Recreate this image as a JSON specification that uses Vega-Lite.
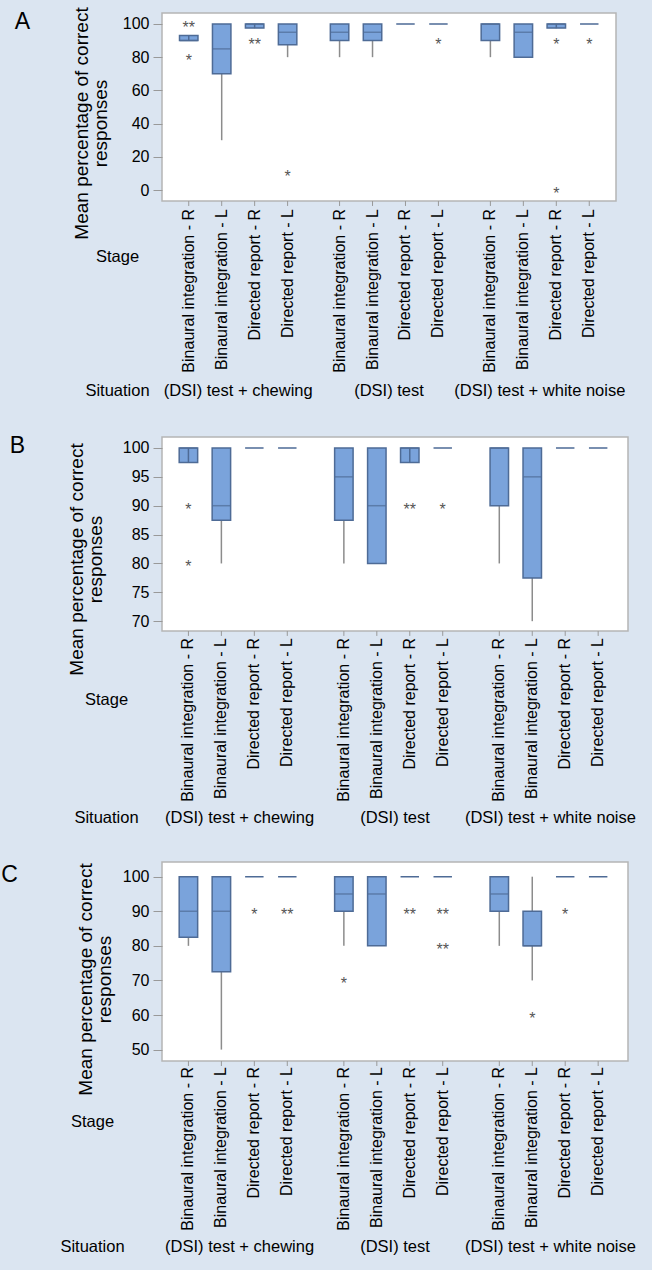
{
  "$schema": "https://vega.github.io/schema/vega-lite/v6.json",
  "background": "#dbe5f1",
  "padding": {"left": 0, "top": 6, "right": 15, "bottom": 20},
  "spacing": 34,
  "config": {
    "font": "Liberation Sans",
    "view": {"fill": "white", "stroke": "#b5b5b5", "strokeWidth": 1.5},
    "axis": {"labelColor": "#000", "titleColor": "#000", "labelFont": "Liberation Sans", "titleFont": "Liberation Sans", "titleFontWeight": "normal", "grid": false, "labelOverlap": false},
    "title": {"font": "Liberation Sans", "fontWeight": "normal", "color": "#000"}
  },
  "datasets": {
    "boxes": [
      {"p": "A", "sit": "(DSI) test + chewing", "stage": "Binaural integration - R", "lo": 90, "q1": 90, "med": 90, "q3": 93, "hi": 93},
      {"p": "A", "sit": "(DSI) test + chewing", "stage": "Binaural integration - L", "lo": 30, "q1": 70, "med": 85, "q3": 100, "hi": 100},
      {"p": "A", "sit": "(DSI) test + chewing", "stage": "Directed report - R", "lo": 97.5, "q1": 97.5, "med": 100, "q3": 100, "hi": 100},
      {"p": "A", "sit": "(DSI) test + chewing", "stage": "Directed report - L", "lo": 80, "q1": 87.5, "med": 95, "q3": 100, "hi": 100},
      {"p": "A", "sit": "(DSI) test", "stage": "Binaural integration - R", "lo": 80, "q1": 90, "med": 95, "q3": 100, "hi": 100},
      {"p": "A", "sit": "(DSI) test", "stage": "Binaural integration - L", "lo": 80, "q1": 90, "med": 95, "q3": 100, "hi": 100},
      {"p": "A", "sit": "(DSI) test", "stage": "Directed report - R", "lo": 100, "q1": 100, "med": 100, "q3": 100, "hi": 100},
      {"p": "A", "sit": "(DSI) test", "stage": "Directed report - L", "lo": 100, "q1": 100, "med": 100, "q3": 100, "hi": 100},
      {"p": "A", "sit": "(DSI) test + white noise", "stage": "Binaural integration - R", "lo": 80, "q1": 90, "med": 100, "q3": 100, "hi": 100},
      {"p": "A", "sit": "(DSI) test + white noise", "stage": "Binaural integration - L", "lo": 80, "q1": 80, "med": 95, "q3": 100, "hi": 100},
      {"p": "A", "sit": "(DSI) test + white noise", "stage": "Directed report - R", "lo": 97.5, "q1": 97.5, "med": 100, "q3": 100, "hi": 100},
      {"p": "A", "sit": "(DSI) test + white noise", "stage": "Directed report - L", "lo": 100, "q1": 100, "med": 100, "q3": 100, "hi": 100},
      {"p": "B", "sit": "(DSI) test + chewing", "stage": "Binaural integration - R", "lo": 97.5, "q1": 97.5, "med": 100, "q3": 100, "hi": 100},
      {"p": "B", "sit": "(DSI) test + chewing", "stage": "Binaural integration - L", "lo": 80, "q1": 87.5, "med": 90, "q3": 100, "hi": 100},
      {"p": "B", "sit": "(DSI) test + chewing", "stage": "Directed report - R", "lo": 100, "q1": 100, "med": 100, "q3": 100, "hi": 100},
      {"p": "B", "sit": "(DSI) test + chewing", "stage": "Directed report - L", "lo": 100, "q1": 100, "med": 100, "q3": 100, "hi": 100},
      {"p": "B", "sit": "(DSI) test", "stage": "Binaural integration - R", "lo": 80, "q1": 87.5, "med": 95, "q3": 100, "hi": 100},
      {"p": "B", "sit": "(DSI) test", "stage": "Binaural integration - L", "lo": 80, "q1": 80, "med": 90, "q3": 100, "hi": 100},
      {"p": "B", "sit": "(DSI) test", "stage": "Directed report - R", "lo": 97.5, "q1": 97.5, "med": 100, "q3": 100, "hi": 100},
      {"p": "B", "sit": "(DSI) test", "stage": "Directed report - L", "lo": 100, "q1": 100, "med": 100, "q3": 100, "hi": 100},
      {"p": "B", "sit": "(DSI) test + white noise", "stage": "Binaural integration - R", "lo": 80, "q1": 90, "med": 100, "q3": 100, "hi": 100},
      {"p": "B", "sit": "(DSI) test + white noise", "stage": "Binaural integration - L", "lo": 70, "q1": 77.5, "med": 95, "q3": 100, "hi": 100},
      {"p": "B", "sit": "(DSI) test + white noise", "stage": "Directed report - R", "lo": 100, "q1": 100, "med": 100, "q3": 100, "hi": 100},
      {"p": "B", "sit": "(DSI) test + white noise", "stage": "Directed report - L", "lo": 100, "q1": 100, "med": 100, "q3": 100, "hi": 100},
      {"p": "C", "sit": "(DSI) test + chewing", "stage": "Binaural integration - R", "lo": 80, "q1": 82.5, "med": 90, "q3": 100, "hi": 100},
      {"p": "C", "sit": "(DSI) test + chewing", "stage": "Binaural integration - L", "lo": 50, "q1": 72.5, "med": 90, "q3": 100, "hi": 100},
      {"p": "C", "sit": "(DSI) test + chewing", "stage": "Directed report - R", "lo": 100, "q1": 100, "med": 100, "q3": 100, "hi": 100},
      {"p": "C", "sit": "(DSI) test + chewing", "stage": "Directed report - L", "lo": 100, "q1": 100, "med": 100, "q3": 100, "hi": 100},
      {"p": "C", "sit": "(DSI) test", "stage": "Binaural integration - R", "lo": 80, "q1": 90, "med": 95, "q3": 100, "hi": 100},
      {"p": "C", "sit": "(DSI) test", "stage": "Binaural integration - L", "lo": 80, "q1": 80, "med": 95, "q3": 100, "hi": 100},
      {"p": "C", "sit": "(DSI) test", "stage": "Directed report - R", "lo": 100, "q1": 100, "med": 100, "q3": 100, "hi": 100},
      {"p": "C", "sit": "(DSI) test", "stage": "Directed report - L", "lo": 100, "q1": 100, "med": 100, "q3": 100, "hi": 100},
      {"p": "C", "sit": "(DSI) test + white noise", "stage": "Binaural integration - R", "lo": 80, "q1": 90, "med": 95, "q3": 100, "hi": 100},
      {"p": "C", "sit": "(DSI) test + white noise", "stage": "Binaural integration - L", "lo": 70, "q1": 80, "med": 80, "q3": 90, "hi": 100},
      {"p": "C", "sit": "(DSI) test + white noise", "stage": "Directed report - R", "lo": 100, "q1": 100, "med": 100, "q3": 100, "hi": 100},
      {"p": "C", "sit": "(DSI) test + white noise", "stage": "Directed report - L", "lo": 100, "q1": 100, "med": 100, "q3": 100, "hi": 100}
    ],
    "outliers": [
      {"p": "A", "sit": "(DSI) test + chewing", "stage": "Binaural integration - R", "v": 100, "sym": "**"},
      {"p": "A", "sit": "(DSI) test + chewing", "stage": "Binaural integration - R", "v": 80, "sym": "*"},
      {"p": "A", "sit": "(DSI) test + chewing", "stage": "Directed report - R", "v": 90, "sym": "**"},
      {"p": "A", "sit": "(DSI) test + chewing", "stage": "Directed report - L", "v": 10, "sym": "*"},
      {"p": "A", "sit": "(DSI) test", "stage": "Directed report - L", "v": 90, "sym": "*"},
      {"p": "A", "sit": "(DSI) test + white noise", "stage": "Directed report - R", "v": 90, "sym": "*"},
      {"p": "A", "sit": "(DSI) test + white noise", "stage": "Directed report - R", "v": 0, "sym": "*"},
      {"p": "A", "sit": "(DSI) test + white noise", "stage": "Directed report - L", "v": 90, "sym": "*"},
      {"p": "B", "sit": "(DSI) test + chewing", "stage": "Binaural integration - R", "v": 90, "sym": "*"},
      {"p": "B", "sit": "(DSI) test + chewing", "stage": "Binaural integration - R", "v": 80, "sym": "*"},
      {"p": "B", "sit": "(DSI) test", "stage": "Directed report - R", "v": 90, "sym": "**"},
      {"p": "B", "sit": "(DSI) test", "stage": "Directed report - L", "v": 90, "sym": "*"},
      {"p": "C", "sit": "(DSI) test + chewing", "stage": "Directed report - R", "v": 90, "sym": "*"},
      {"p": "C", "sit": "(DSI) test + chewing", "stage": "Directed report - L", "v": 90, "sym": "**"},
      {"p": "C", "sit": "(DSI) test", "stage": "Binaural integration - R", "v": 70, "sym": "*"},
      {"p": "C", "sit": "(DSI) test", "stage": "Directed report - R", "v": 90, "sym": "**"},
      {"p": "C", "sit": "(DSI) test", "stage": "Directed report - L", "v": 90, "sym": "**"},
      {"p": "C", "sit": "(DSI) test", "stage": "Directed report - L", "v": 80, "sym": "**"},
      {"p": "C", "sit": "(DSI) test + white noise", "stage": "Binaural integration - L", "v": 60, "sym": "*"},
      {"p": "C", "sit": "(DSI) test + white noise", "stage": "Directed report - R", "v": 90, "sym": "*"}
    ]
  },
  "vconcat": [
    {
      "width": 454, "height": 188,
      "title": {"text": "A", "orient": "left", "anchor": "end", "angle": 0, "align": "left", "baseline": "top", "fontSize": 23, "offset": 42, "dy": 4},
      "resolve": {"axis": {"y": "independent"}},
      "encoding": {
        "x": {"field": "sit", "type": "nominal", "sort": ["(DSI) test + chewing", "(DSI) test", "(DSI) test + white noise"], "scale": {"paddingInner": 0.126, "paddingOuter": 0.068},
          "axis": {"title": ["Stage", "Situation"], "titleLineHeight": 134, "titleX": -45, "titleY": 47, "titleAlign": "center", "titleBaseline": "top", "titleAngle": 0, "titleFontSize": 16.5, "labelAngle": 0, "labelFontSize": 16.5, "labelBaseline": "top", "labelPadding": 181, "ticks": false, "tickSize": 0, "domain": false}},
        "xOffset": {"field": "stage", "type": "nominal", "sort": ["Binaural integration - R", "Binaural integration - L", "Directed report - R", "Directed report - L"], "scale": {"paddingInner": 0.44, "paddingOuter": 0.22}}
      },
      "layer": [
        {"data": {"name": "boxes"}, "transform": [{"filter": "datum.p == 'A'"}], "mark": {"type": "rule", "color": "#8c8c8c", "strokeWidth": 1.5},
          "encoding": {"y": {"field": "lo", "type": "quantitative", "scale": {"domain": [-6.6, 106.6], "nice": false, "zero": false},
            "axis": {"values": [0, 20, 40, 60, 80, 100], "labelOverlap": false, "title": ["Mean percentage of correct", "responses"], "titleFontSize": 19, "titleLineHeight": 19, "titleAngle": 270, "titleAlign": "center", "titleBaseline": "top", "titleX": -90, "titleY": 110, "labelFontSize": 16, "labelPadding": 4, "tickSize": 9, "tickColor": "#999", "domain": false}},
            "y2": {"field": "hi"}}},
        {"data": {"name": "boxes"}, "transform": [{"filter": "datum.p == 'A'"}], "mark": {"type": "bar", "fill": "#7aa3db", "stroke": "#4e6b96", "strokeWidth": 1.5},
          "encoding": {"y": {"field": "q1", "type": "quantitative", "axis": null, "scale": {"domain": [-6.6, 106.6], "nice": false, "zero": false}}, "y2": {"field": "q3"}}},
        {"data": {"name": "boxes"}, "transform": [{"filter": "datum.p == 'A' && datum.q3 > datum.q1"}], "mark": {"type": "tick", "color": "#4e6b96", "thickness": 1.5, "size": 18},
          "encoding": {"y": {"field": "med", "type": "quantitative", "axis": null, "scale": {"domain": [-6.6, 106.6], "nice": false, "zero": false}}}},
        {"data": {"name": "boxes"}, "transform": [{"filter": "datum.p == 'A' && datum.q3 > datum.q1 && datum.q3 - datum.q1 <= 3"}], "mark": {"type": "rule", "color": "#4e6b96", "strokeWidth": 1.5},
          "encoding": {"y": {"field": "q1", "type": "quantitative", "axis": null, "scale": {"domain": [-6.6, 106.6], "nice": false, "zero": false}}, "y2": {"field": "q3"}}},
        {"data": {"name": "boxes"}, "transform": [{"filter": "datum.p == 'A'"}], "mark": {"type": "rule", "color": "#999999", "strokeWidth": 1},
          "encoding": {"y": {"datum": -6.6, "type": "quantitative", "axis": null, "scale": {"domain": [-6.6, 106.6], "nice": false, "zero": false}}, "y2": {"datum": -9.6}}},
        {"data": {"name": "boxes"}, "transform": [{"filter": "datum.p == 'A'"}], "mark": {"type": "text", "angle": 270, "align": "right", "baseline": "middle", "dx": -8, "fontSize": 16, "color": "#000"},
          "encoding": {"text": {"field": "stage"}, "y": {"datum": -6.6, "type": "quantitative", "axis": null, "scale": {"domain": [-6.6, 106.6], "nice": false, "zero": false}}}},
        {"data": {"name": "outliers"}, "transform": [{"filter": "datum.p == 'A'"}], "mark": {"type": "text", "fontSize": 16, "color": "#555555", "baseline": "middle", "dy": 4},
          "encoding": {"text": {"field": "sym"}, "y": {"field": "v", "type": "quantitative", "axis": null, "scale": {"domain": [-6.6, 106.6], "nice": false, "zero": false}}}}
      ]
    },
    {
      "width": 466, "height": 194,
      "title": {"text": "B", "orient": "left", "anchor": "end", "angle": 0, "align": "left", "baseline": "top", "fontSize": 23, "offset": 42, "dy": -2},
      "resolve": {"axis": {"y": "independent"}},
      "encoding": {
        "x": {"field": "sit", "type": "nominal", "sort": ["(DSI) test + chewing", "(DSI) test", "(DSI) test + white noise"], "scale": {"paddingInner": 0.13, "paddingOuter": 0.064},
          "axis": {"title": ["Stage", "Situation"], "titleLineHeight": 118, "titleX": -56, "titleY": 60, "titleAlign": "center", "titleBaseline": "top", "titleAngle": 0, "titleFontSize": 16.5, "labelAngle": 0, "labelFontSize": 16.5, "labelBaseline": "top", "labelPadding": 178, "ticks": false, "tickSize": 0, "domain": false}},
        "xOffset": {"field": "stage", "type": "nominal", "sort": ["Binaural integration - R", "Binaural integration - L", "Directed report - R", "Directed report - L"], "scale": {"paddingInner": 0.44, "paddingOuter": 0.22}}
      },
      "layer": [
        {"data": {"name": "boxes"}, "transform": [{"filter": "datum.p == 'B'"}], "mark": {"type": "rule", "color": "#8c8c8c", "strokeWidth": 1.5},
          "encoding": {"y": {"field": "lo", "type": "quantitative", "scale": {"domain": [68.3, 101.9], "nice": false, "zero": false},
            "axis": {"values": [70, 75, 80, 85, 90, 95, 100], "labelOverlap": false, "title": ["Mean percentage of correct", "responses"], "titleFontSize": 19, "titleLineHeight": 19, "titleAngle": 270, "titleAlign": "center", "titleBaseline": "top", "titleX": -95, "titleY": 122, "labelFontSize": 16, "labelPadding": 4, "tickSize": 9, "tickColor": "#999", "domain": false}},
            "y2": {"field": "hi"}}},
        {"data": {"name": "boxes"}, "transform": [{"filter": "datum.p == 'B'"}], "mark": {"type": "bar", "fill": "#7aa3db", "stroke": "#4e6b96", "strokeWidth": 1.5},
          "encoding": {"y": {"field": "q1", "type": "quantitative", "axis": null, "scale": {"domain": [68.3, 101.9], "nice": false, "zero": false}}, "y2": {"field": "q3"}}},
        {"data": {"name": "boxes"}, "transform": [{"filter": "datum.p == 'B' && datum.q3 > datum.q1"}], "mark": {"type": "tick", "color": "#4e6b96", "thickness": 1.5, "size": 18},
          "encoding": {"y": {"field": "med", "type": "quantitative", "axis": null, "scale": {"domain": [68.3, 101.9], "nice": false, "zero": false}}}},
        {"data": {"name": "boxes"}, "transform": [{"filter": "datum.p == 'B' && datum.q3 > datum.q1 && datum.q3 - datum.q1 <= 3"}], "mark": {"type": "rule", "color": "#4e6b96", "strokeWidth": 1.5},
          "encoding": {"y": {"field": "q1", "type": "quantitative", "axis": null, "scale": {"domain": [68.3, 101.9], "nice": false, "zero": false}}, "y2": {"field": "q3"}}},
        {"data": {"name": "boxes"}, "transform": [{"filter": "datum.p == 'B'"}], "mark": {"type": "rule", "color": "#999999", "strokeWidth": 1},
          "encoding": {"y": {"datum": 68.3, "type": "quantitative", "axis": null, "scale": {"domain": [68.3, 101.9], "nice": false, "zero": false}}, "y2": {"datum": 67.45}}},
        {"data": {"name": "boxes"}, "transform": [{"filter": "datum.p == 'B'"}], "mark": {"type": "text", "angle": 270, "align": "right", "baseline": "middle", "dx": -7, "fontSize": 16, "color": "#000"},
          "encoding": {"text": {"field": "stage"}, "y": {"datum": 68.3, "type": "quantitative", "axis": null, "scale": {"domain": [68.3, 101.9], "nice": false, "zero": false}}}},
        {"data": {"name": "outliers"}, "transform": [{"filter": "datum.p == 'B'"}], "mark": {"type": "text", "fontSize": 16, "color": "#555555", "baseline": "middle", "dy": 4},
          "encoding": {"text": {"field": "sym"}, "y": {"field": "v", "type": "quantitative", "axis": null, "scale": {"domain": [68.3, 101.9], "nice": false, "zero": false}}}}
      ]
    },
    {
      "width": 466, "height": 199,
      "title": {"text": "C", "orient": "left", "anchor": "end", "angle": 0, "align": "left", "baseline": "top", "fontSize": 23, "offset": 42, "dy": 2},
      "resolve": {"axis": {"y": "independent"}},
      "encoding": {
        "x": {"field": "sit", "type": "nominal", "sort": ["(DSI) test + chewing", "(DSI) test", "(DSI) test + white noise"], "scale": {"paddingInner": 0.13, "paddingOuter": 0.064},
          "axis": {"title": ["Stage", "Situation"], "titleLineHeight": 125, "titleX": -70, "titleY": 52, "titleAlign": "center", "titleBaseline": "top", "titleAngle": 0, "titleFontSize": 16.5, "labelAngle": 0, "labelFontSize": 16.5, "labelBaseline": "top", "labelPadding": 177, "ticks": false, "tickSize": 0, "domain": false}},
        "xOffset": {"field": "stage", "type": "nominal", "sort": ["Binaural integration - R", "Binaural integration - L", "Directed report - R", "Directed report - L"], "scale": {"paddingInner": 0.44, "paddingOuter": 0.22}}
      },
      "layer": [
        {"data": {"name": "boxes"}, "transform": [{"filter": "datum.p == 'C'"}], "mark": {"type": "rule", "color": "#8c8c8c", "strokeWidth": 1.5},
          "encoding": {"y": {"field": "lo", "type": "quantitative", "scale": {"domain": [46.7, 104.25], "nice": false, "zero": false},
            "axis": {"values": [50, 60, 70, 80, 90, 100], "labelOverlap": false, "title": ["Mean percentage of correct", "responses"], "titleFontSize": 19, "titleLineHeight": 19, "titleAngle": 270, "titleAlign": "center", "titleBaseline": "top", "titleX": -86, "titleY": 117, "labelFontSize": 16, "labelPadding": 4, "tickSize": 9, "tickColor": "#999", "domain": false}},
            "y2": {"field": "hi"}}},
        {"data": {"name": "boxes"}, "transform": [{"filter": "datum.p == 'C'"}], "mark": {"type": "bar", "fill": "#7aa3db", "stroke": "#4e6b96", "strokeWidth": 1.5},
          "encoding": {"y": {"field": "q1", "type": "quantitative", "axis": null, "scale": {"domain": [46.7, 104.25], "nice": false, "zero": false}}, "y2": {"field": "q3"}}},
        {"data": {"name": "boxes"}, "transform": [{"filter": "datum.p == 'C' && datum.q3 > datum.q1"}], "mark": {"type": "tick", "color": "#4e6b96", "thickness": 1.5, "size": 18},
          "encoding": {"y": {"field": "med", "type": "quantitative", "axis": null, "scale": {"domain": [46.7, 104.25], "nice": false, "zero": false}}}},
        {"data": {"name": "boxes"}, "transform": [{"filter": "datum.p == 'C'"}], "mark": {"type": "rule", "color": "#999999", "strokeWidth": 1},
          "encoding": {"y": {"datum": 46.7, "type": "quantitative", "axis": null, "scale": {"domain": [46.7, 104.25], "nice": false, "zero": false}}, "y2": {"datum": 45.25}}},
        {"data": {"name": "boxes"}, "transform": [{"filter": "datum.p == 'C'"}], "mark": {"type": "text", "angle": 270, "align": "right", "baseline": "middle", "dx": -6, "fontSize": 16, "color": "#000"},
          "encoding": {"text": {"field": "stage"}, "y": {"datum": 46.7, "type": "quantitative", "axis": null, "scale": {"domain": [46.7, 104.25], "nice": false, "zero": false}}}},
        {"data": {"name": "outliers"}, "transform": [{"filter": "datum.p == 'C'"}], "mark": {"type": "text", "fontSize": 16, "color": "#555555", "baseline": "middle", "dy": 4},
          "encoding": {"text": {"field": "sym"}, "y": {"field": "v", "type": "quantitative", "axis": null, "scale": {"domain": [46.7, 104.25], "nice": false, "zero": false}}}}
      ]
    }
  ]
}
